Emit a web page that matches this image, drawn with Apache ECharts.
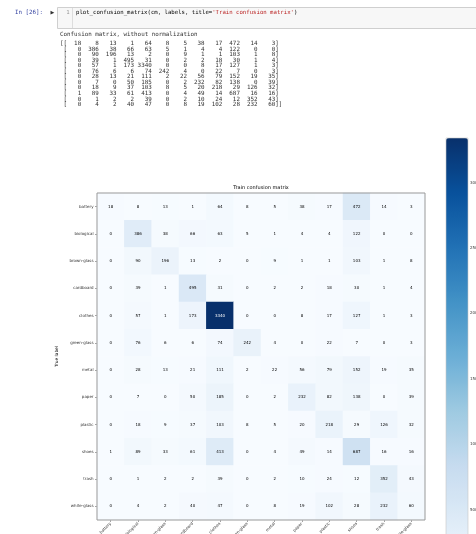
<!DOCTYPE html>
<html>
<head>
<meta charset="utf-8">
<script src="https://cdn.jsdelivr.net/npm/echarts@6/dist/echarts.min.js"></script>
<style>
  html, body { margin: 0; padding: 0; background: #fff; }
  #chart { width: 476px; height: 534px; }
</style>
</head>
<body>
<div id="chart"></div>
<script>
// ---- data ----
const labels = ['battery', 'biological', 'brown-glass', 'cardboard', 'clothes', 'green-glass',
                'metal', 'paper', 'plastic', 'shoes', 'trash', 'white-glass'];
const cm = [
  [18, 8, 13, 1, 64, 8, 5, 38, 17, 472, 14, 3],
  [0, 386, 38, 66, 63, 5, 1, 4, 4, 122, 0, 0],
  [0, 90, 196, 13, 2, 0, 9, 1, 1, 103, 1, 8],
  [0, 39, 1, 495, 31, 0, 2, 2, 18, 30, 1, 4],
  [0, 57, 1, 173, 3340, 0, 0, 8, 17, 127, 1, 3],
  [0, 76, 6, 6, 74, 242, 4, 0, 22, 7, 0, 3],
  [0, 28, 13, 21, 111, 2, 22, 56, 79, 152, 19, 35],
  [0, 7, 0, 50, 185, 0, 2, 232, 82, 138, 0, 39],
  [0, 18, 9, 37, 103, 8, 5, 20, 218, 29, 126, 32],
  [1, 89, 33, 61, 413, 0, 4, 49, 14, 687, 16, 16],
  [0, 1, 2, 2, 39, 0, 2, 10, 24, 12, 352, 43],
  [0, 4, 2, 40, 47, 0, 8, 19, 102, 28, 232, 60]
];
const colorbarTicks = [500, 1000, 1500, 2000, 2500, 3000];
const blues = ['#f7fbff', '#deebf7', '#c6dbef', '#9ecae1', '#6baed6', '#4292c6', '#2171b5', '#08519c', '#08306b'];
const titleText = 'Train confusion matrix';
const headerText = 'Confusion matrix, without normalization';

// ---- build ----
const maxV = Math.max(...cm.flat());
const thresh = maxV / 2;
const heatData = [];
cm.forEach((row, i) => row.forEach((v, j) => {
  heatData.push({
    value: [j, i, v],
    label: { color: v > thresh ? '#ffffff' : '#000000' }
  });
}));

const mono = 'DejaVu Sans Mono';
const printed = cm.map((row, i) => {
  const open = i === 0 ? '[[' : ' [';
  const close = i === cm.length - 1 ? ']]' : ']';
  return open + row.map(v => String(v).padStart(4)).join(' ') + close;
});

const graphics = [];
// code cell box
graphics.push({ type: 'rect', shape: { x: 57.5, y: 7.5, width: 420, height: 21 },
  style: { fill: '#f7f7f7', stroke: '#cfcfcf', lineWidth: 1 }, z: 1 });
graphics.push({ type: 'line', shape: { x1: 72.5, y1: 8, x2: 72.5, y2: 28 },
  style: { stroke: '#dddddd', lineWidth: 1 }, z: 2 });
graphics.push({ type: 'text', x: 15, y: 12.3,
  style: { text: 'In [26]:', font: '5.8px ' + mono, fill: '#303F9F', verticalAlign: 'middle' }, z: 3 });
graphics.push({ type: 'text', x: 50.5, y: 12.3,
  style: { text: '\u25B6', font: '5px DejaVu Sans', fill: '#333', verticalAlign: 'middle' }, z: 3 });
graphics.push({ type: 'text', x: 66.3, y: 12.3,
  style: { text: '1', font: '5.67px ' + mono, fill: '#999', verticalAlign: 'middle' }, z: 3 });
graphics.push({ type: 'text', x: 76, y: 12.3,
  style: {
    text: '{a|plot_confusion_matrix(cm, labels, title=}{s|\'Train confusion matrix\'}{a|)}',
    verticalAlign: 'middle',
    rich: {
      a: { font: '5.67px ' + mono, fill: '#000' },
      s: { font: '5.67px ' + mono, fill: '#BA2121' }
    }
  }, z: 3 });
graphics.push({ type: 'text', x: 60, y: 34.7,
  style: { text: headerText, font: '5.86px ' + mono, fill: '#333', verticalAlign: 'middle' }, z: 3 });
printed.forEach((s, i) => {
  graphics.push({ type: 'text', x: 60, y: 43.8 + i * 5.52,
    style: { text: s, font: '5.86px ' + mono, fill: '#333', verticalAlign: 'middle' }, z: 3 });
});
// plot title
graphics.push({ type: 'text', x: 261, y: 187.5,
  style: { text: titleText, font: '5px DejaVu Sans', fill: '#000', align: 'center', verticalAlign: 'middle' }, z: 3 });

const chart = echarts.init(document.getElementById('chart'), null, { renderer: 'canvas' });
chart.setOption({
  backgroundColor: '#ffffff',
  animation: false,
  textStyle: { fontFamily: 'DejaVu Sans' },
  graphic: graphics,
  grid: [
    { left: 97, top: 193, width: 328, height: 327, show: true, borderColor: '#999', borderWidth: 1, z: 10,
      backgroundColor: 'transparent', containLabel: false, outerBoundsMode: 'none' },
    { left: 446, top: 138, width: 22, height: 437, show: true, borderColor: '#c8c8c8', borderWidth: 0.6, z: 10,
      backgroundColor: 'transparent', containLabel: false, outerBoundsMode: 'none' }
  ],
  xAxis: [
    {
      gridIndex: 0, type: 'category', data: labels,
      name: 'Predicted label', nameLocation: 'middle', nameGap: 30,
      nameTextStyle: { fontSize: 4.3, color: '#000' },
      axisLine: { show: false },
      axisTick: { show: true, alignWithLabel: true, length: 2, lineStyle: { color: '#666', width: 0.6 } },
      axisLabel: { rotate: 45, fontSize: 4, color: '#333', interval: 0, margin: 3 },
      splitLine: { show: false }, splitArea: { show: false }
    },
    { gridIndex: 1, type: 'value', min: 0, max: 1, show: false }
  ],
  yAxis: [
    {
      gridIndex: 0, type: 'category', data: labels, inverse: true,
      name: 'True label', nameLocation: 'middle', nameGap: 31,
      nameTextStyle: { fontSize: 4.3, color: '#000' },
      axisLine: { show: false },
      axisTick: { show: true, alignWithLabel: true, length: 2, lineStyle: { color: '#666', width: 0.6 } },
      axisLabel: { fontSize: 4, color: '#333', interval: 0, margin: 3.5 },
      splitLine: { show: false }, splitArea: { show: false }
    },
    {
      gridIndex: 1, type: 'value', min: 0, max: maxV, interval: 500, position: 'right',
      axisLine: { show: false },
      axisTick: { show: true, length: 2, lineStyle: { color: '#555', width: 0.6 },
        customValues: colorbarTicks },
      axisLabel: { fontSize: 4, color: '#333', margin: 2,
        customValues: colorbarTicks, formatter: v => String(v) },
      splitLine: { show: false }
    }
  ],
  visualMap: {
    type: 'continuous', min: 0, max: maxV, seriesIndex: 0,
    orient: 'vertical', left: 446, top: 138, padding: 0,
    itemWidth: 22, itemHeight: 437, calculable: false, realtime: false,
    showLabel: false, hoverLink: false,
    inRange: { color: blues }, z: 4
  },
  series: [{
    type: 'heatmap', xAxisIndex: 0, yAxisIndex: 0, data: heatData,
    label: { show: true, fontSize: 4, fontFamily: 'DejaVu Sans' },
    itemStyle: { borderWidth: 0 },
    emphasis: { disabled: true }
  }]
});
</script>
</body>
</html>
